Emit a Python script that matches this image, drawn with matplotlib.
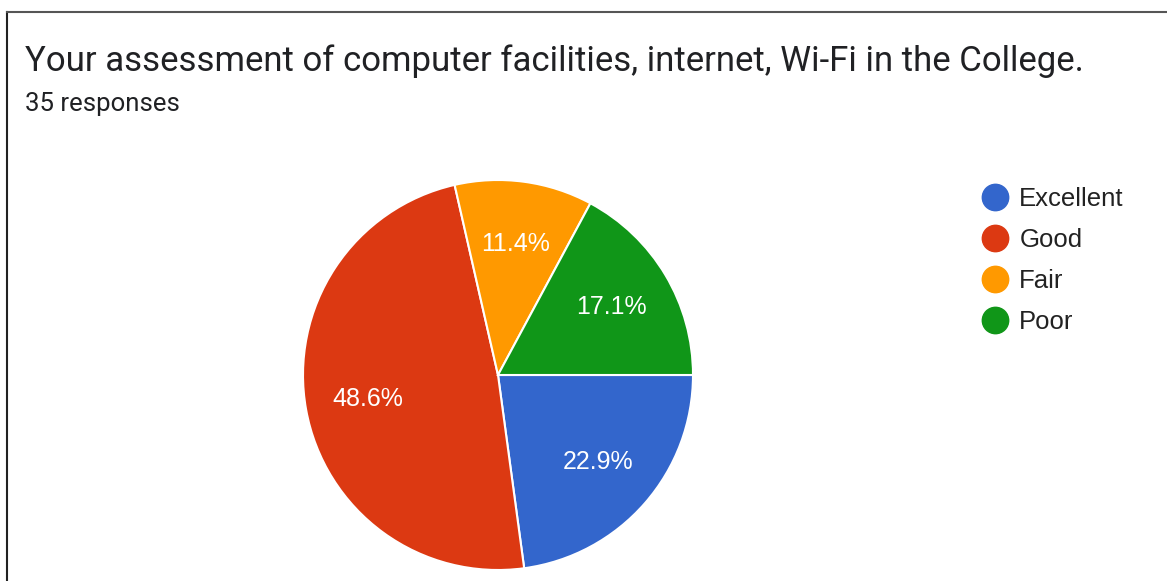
import matplotlib.pyplot as plt
from matplotlib.lines import Line2D

title = "Your assessment of computer facilities, internet, Wi-Fi in the College."
subtitle = "35 responses"
labels = ["Excellent", "Good", "Fair", "Poor"]
counts = [8, 17, 4, 6]
colors = ["#3366cc", "#dc3912", "#ff9900", "#109618"]

W, H = 1167, 581
fig = plt.figure(figsize=(W / 100, H / 100), dpi=100)

# card border (left and top edges visible)
fig.add_artist(Line2D([7 / W, 7 / W], [0, 1 - 12 / H], color="#222222", lw=1.5))
fig.add_artist(Line2D([7 / W, 1], [1 - 12 / H, 1 - 12 / H], color="#555555", lw=1.5))

fig.text(25 / W, 1 - 71 / H, title, fontsize=25, family="Roboto", color="#202124")
fig.text(25 / W, 1 - 111 / H, subtitle, fontsize=18.5, family="Roboto", color="#202124")

cx, cy, r = 498, 375, 195
ax = fig.add_axes([(cx - r) / W, (H - cy - r) / H, 2 * r / W, 2 * r / H])
wedges, _, autotexts = ax.pie(counts, colors=colors, startangle=0, counterclock=False,
                              autopct="%1.1f%%", pctdistance=0.68,
                              wedgeprops=dict(edgecolor="white", linewidth=1.5),
                              textprops=dict(color="white", fontsize=18, family="Liberation Sans"))
ax.set_xlim(-1, 1)
ax.set_ylim(-1, 1)
ax.axis("off")

handles = [Line2D([], [], marker="o", linestyle="", markersize=19, color=c) for c in colors]
fig.legend(handles, labels, loc="upper left", bbox_to_anchor=(982 / W, 1 - 187 / H),
           frameon=False, prop=dict(family="Liberation Sans", size=18.5),
           labelcolor="#222222", handlelength=1.0, handletextpad=0.45, labelspacing=0.66,
           borderaxespad=0, borderpad=0)

fig.savefig("out.png", dpi=100)
